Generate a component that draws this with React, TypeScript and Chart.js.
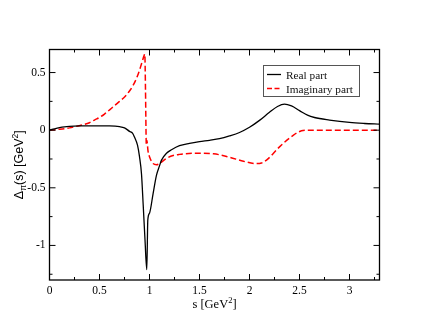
import React, { useEffect, useRef } from "react";
import { Chart, registerables } from "chart.js";

Chart.register(...registerables);

// ---- data ----
const realS = [
  0, 0.05, 0.1, 0.15, 0.2, 0.3, 0.4, 0.5, 0.6, 0.7, 0.75, 0.8, 0.83, 0.85, 0.88, 0.9, 0.92,
  0.937, 0.955, 0.973, 0.983, 1.0, 1.036, 1.07, 1.1, 1.12, 1.17, 1.22, 1.3, 1.4, 1.5, 1.6,
  1.7, 1.8, 1.9, 2.0, 2.1, 2.2, 2.28, 2.35, 2.42, 2.5, 2.58, 2.65, 2.8, 3.0, 3.15, 3.3,
];
const realY = [
  0, 0.012, 0.022, 0.029, 0.033, 0.037, 0.038, 0.038, 0.037, 0.03, 0.02, -0.01, -0.025, -0.06,
  -0.13, -0.23, -0.38, -0.65, -0.95, -1.21, -0.78, -0.72, -0.55, -0.39, -0.31, -0.26, -0.2,
  -0.17, -0.135, -0.115, -0.1, -0.088, -0.074, -0.05, -0.02, 0.025, 0.085, 0.155, 0.205, 0.226,
  0.21, 0.17, 0.13, 0.11, 0.088, 0.067, 0.058, 0.052,
];
const imagS = [
  0, 0.1, 0.2, 0.286, 0.4, 0.453, 0.5, 0.55, 0.62, 0.7, 0.753, 0.8, 0.837, 0.87, 0.9, 0.925,
  0.947, 0.953, 0.96, 0.965, 0.968, 0.974, 0.985, 1.0, 1.036, 1.07, 1.1, 1.17, 1.236, 1.3,
  1.47, 1.64, 1.8, 1.94, 2.07, 2.12, 2.17, 2.3, 2.44, 2.52, 2.56, 2.8, 3.0, 3.3,
];
const imagY = [
  0, 0.008, 0.02, 0.037, 0.065, 0.09, 0.11, 0.14, 0.19, 0.25, 0.29, 0.34, 0.39, 0.45, 0.52,
  0.59, 0.65, 0.66, 0.35, 0.0, -0.13, -0.09, -0.18, -0.23, -0.29, -0.3, -0.29, -0.245, -0.22,
  -0.21, -0.2, -0.205, -0.235, -0.27, -0.29, -0.285, -0.26, -0.145, -0.043, -0.005, 0, 0, 0, 0,
];
const seriesLabels = ["Real part", "Imaginary part"];
const xMajorTicks = [0, 0.5, 1, 1.5, 2, 2.5, 3];
const xMinorTicks = [0.25, 0.75, 1.25, 1.75, 2.25, 2.75, 3.25];
const yMajorTicks = [-1, -0.5, 0, 0.5];
const yMinorTicks = [-1.25, -0.75, -0.25, 0.25];
const xMin = 0;
const xMax = 3.3;
const yMin = -1.3;
const yMax = 0.7;

const SERIF = "'Liberation Serif', 'Times New Roman', serif";
const SANS = "'Liberation Sans', Arial, sans-serif";

const decorPlugin = {
  id: "decor",
  afterDraw(chart: any) {
    const ctx = chart.ctx as CanvasRenderingContext2D;
    const { left, right, top, bottom } = chart.chartArea;
    const xs = chart.scales.x;
    const ys = chart.scales.y;
    ctx.save();
    // frame
    ctx.strokeStyle = "#000";
    ctx.lineWidth = 1.3;
    ctx.setLineDash([]);
    ctx.strokeRect(left, top, right - left, bottom - top);
    // inward ticks
    ctx.lineWidth = 1;
    const tick = (x1: number, y1: number, x2: number, y2: number) => {
      ctx.beginPath();
      ctx.moveTo(x1, y1);
      ctx.lineTo(x2, y2);
      ctx.stroke();
    };
    const drawX = (vals: number[], len: number) => {
      vals.forEach((v) => {
        const px = xs.getPixelForValue(v);
        tick(px, bottom, px, bottom - len);
        tick(px, top, px, top + len);
      });
    };
    const drawY = (vals: number[], len: number) => {
      vals.forEach((v) => {
        const py = ys.getPixelForValue(v);
        tick(left, py, left + len, py);
        tick(right, py, right - len, py);
      });
    };
    drawX(xMajorTicks, 6);
    drawX(xMinorTicks, 3);
    drawY(yMajorTicks, 6);
    drawY(yMinorTicks, 3);

    // x title: s [GeV^2]
    ctx.fillStyle = "#000";
    ctx.textBaseline = "alphabetic";
    ctx.textAlign = "left";
    const big = `12.5px ${SERIF}`;
    const small = `8.5px ${SERIF}`;
    ctx.font = big;
    const p1 = "s [GeV";
    const w1 = ctx.measureText(p1).width;
    ctx.font = small;
    const w2 = ctx.measureText("2").width;
    ctx.font = big;
    const w3 = ctx.measureText("]").width;
    const total = w1 + w2 + w3;
    let cx = (left + right) / 2 - total / 2;
    const by = 308;
    ctx.fillText(p1, cx, by);
    cx += w1;
    ctx.font = small;
    ctx.fillText("2", cx, by - 5);
    cx += w2;
    ctx.font = big;
    ctx.fillText("]", cx, by);

    // y title: Δπ(s) [GeV^2] rotated
    ctx.save();
    ctx.translate(23, (top + bottom) / 2);
    ctx.rotate(-Math.PI / 2);
    const yb = `12.5px ${SANS}`;
    const ys2 = `8.5px ${SANS}`;
    const parts: [string, string, number][] = [
      ["Δ", yb, 0],
      ["π", ys2, 3],
      ["(s) [GeV", yb, 0],
      ["2", ys2, -5],
      ["]", yb, 0],
    ];
    let tw = 0;
    parts.forEach(([t, f]) => {
      ctx.font = f;
      tw += ctx.measureText(t).width;
    });
    let tx = -tw / 2;
    parts.forEach(([t, f, dy]) => {
      ctx.font = f;
      ctx.fillText(t, tx, dy);
      tx += ctx.measureText(t).width;
    });
    ctx.restore();

    // legend
    const lx = 263.5;
    const ly = 65.5;
    const lw = 96;
    const lh = 31;
    ctx.fillStyle = "#fff";
    ctx.fillRect(lx, ly, lw, lh);
    ctx.strokeStyle = "#555";
    ctx.lineWidth = 1;
    ctx.strokeRect(lx, ly, lw, lh);
    const ds = chart.data.datasets;
    const rows = [74.5, 88.5];
    ds.forEach((d: any, i: number) => {
      ctx.strokeStyle = d.borderColor;
      ctx.lineWidth = d.borderWidth;
      ctx.setLineDash(i === 1 ? [5, 2.5] : []);
      ctx.beginPath();
      ctx.moveTo(267, rows[i]);
      ctx.lineTo(281, rows[i]);
      ctx.stroke();
      ctx.setLineDash([]);
      ctx.fillStyle = "#111";
      ctx.font = `11.3px ${SERIF}`;
      ctx.fillText(d.label, 286, rows[i] + 4);
    });
    ctx.restore();
  },
};

export default function App() {
  const ref = useRef<HTMLCanvasElement | null>(null);
  useEffect(() => {
    if (!ref.current) return;
    const chart = new Chart(ref.current, {
      type: "line",
      data: {
        datasets: [
          {
            label: seriesLabels[0],
            data: realS.map((s, i) => ({ x: s, y: realY[i] })),
            borderColor: "#000000",
            borderWidth: 1.3,
            pointRadius: 0,
            fill: false,
            cubicInterpolationMode: "monotone",
          },
          {
            label: seriesLabels[1],
            data: imagS.map((s, i) => ({ x: s, y: imagY[i] })),
            borderColor: "#ff0000",
            borderWidth: 1.5,
            borderDash: [6, 3],
            pointRadius: 0,
            fill: false,
            cubicInterpolationMode: "monotone",
          },
        ],
      },
      options: {
        responsive: false,
        animation: false,
        layout: { padding: { left: 0, top: 49.5, right: 47.5, bottom: 0 } },
        plugins: { legend: { display: false }, tooltip: { enabled: false } },
        scales: {
          x: {
            type: "linear",
            min: xMin,
            max: xMax,
            grid: { display: false, drawTicks: false },
            border: { display: false },
            afterBuildTicks: (scale: any) => {
              scale.ticks = xMajorTicks.map((v) => ({ value: v }));
            },
            afterFit: (scale: any) => {
              scale.height = 50;
            },
            ticks: {
              padding: 4,
              maxRotation: 0,
              autoSkip: false,
              color: "#000",
              font: { family: SERIF, size: 11.5 },
              callback: (v: any) => String(v),
            },
          },
          y: {
            type: "linear",
            min: yMin,
            max: yMax,
            grid: { display: false, drawTicks: false },
            border: { display: false },
            afterBuildTicks: (scale: any) => {
              scale.ticks = yMajorTicks.map((v) => ({ value: v }));
            },
            afterFit: (scale: any) => {
              scale.width = 49.5;
            },
            ticks: {
              padding: 4,
              autoSkip: false,
              color: "#000",
              font: { family: SERIF, size: 11.5 },
              callback: (v: any) => String(v),
            },
          },
        },
      },
      plugins: [decorPlugin],
    } as any);
    return () => chart.destroy();
  }, []);
  return (
    <div style={{ position: "fixed", left: 0, top: 0, width: 427, height: 330, background: "#fff" }}>
      <canvas ref={ref} width={427} height={330} style={{ display: "block", width: 427, height: 330 }} />
    </div>
  );
}
